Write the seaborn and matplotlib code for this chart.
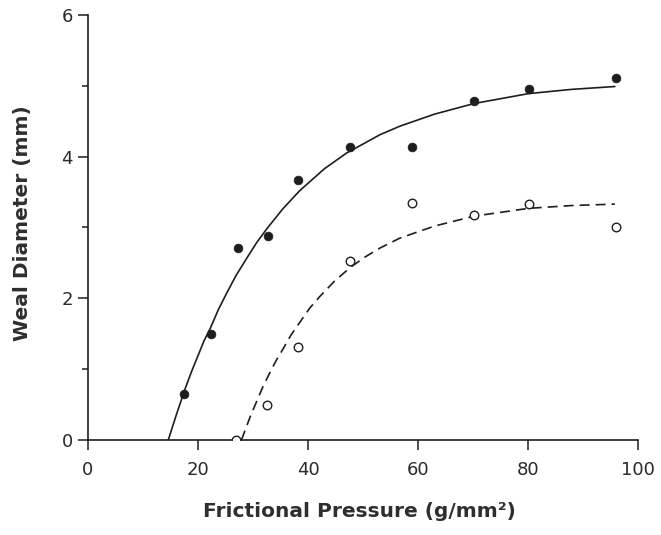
import matplotlib
matplotlib.use("Agg")
import matplotlib.pyplot as plt
import seaborn as sns

# Measured points
filled_x = [17.5, 22.3, 27.2, 32.8, 38.2, 47.6, 59.0, 70.2, 80.1, 96.0]
filled_y = [0.65, 1.49, 2.71, 2.88, 3.67, 4.14, 4.13, 4.78, 4.95, 5.11]
open_x = [26.9, 32.6, 38.1, 47.6, 59.0, 70.2, 80.1, 96.0]
open_y = [0.0, 0.49, 1.31, 2.52, 3.34, 3.18, 3.33, 3.0]

# Fitted curves
solid_x = [14.6, 16.0, 17.6, 18.8, 20.0, 21.1, 22.2, 23.7, 25.2, 26.9, 28.9, 30.7,
           32.5, 35.5, 38.5, 43.0, 47.0, 53.1, 56.7, 63.0, 70.2, 80.1, 88.0, 95.8]
solid_y = [0.0, 0.34, 0.71, 0.96, 1.19, 1.40, 1.57, 1.84, 2.07, 2.32, 2.57, 2.79,
           2.98, 3.27, 3.52, 3.83, 4.05, 4.31, 4.43, 4.60, 4.75, 4.89, 4.95, 4.99]
dash_x = [27.9, 29.5, 30.7, 31.8, 33.0, 34.2, 35.5, 36.9, 38.5, 40.3, 42.2, 44.8,
          47.6, 50.3, 53.1, 56.7, 63.0, 70.2, 80.1, 88.0, 95.8]
dash_y = [0.0, 0.33, 0.55, 0.75, 0.94, 1.12, 1.29, 1.48, 1.66, 1.86, 2.03, 2.24,
          2.43, 2.58, 2.71, 2.85, 3.02, 3.16, 3.27, 3.31, 3.33]

x_ticks = [0, 20, 40, 60, 80, 100]
y_ticks = [0, 2, 4, 6]
y_minor = [1, 3, 5]

sns.set_style("ticks")
plt.rcParams['font.family'] = ['DejaVu Sans']

ink = "#1e1e1e"
fig = plt.figure(figsize=(6.61, 5.35), dpi=100)
ax = fig.add_axes([0.1331, 0.1776, 0.8321, 0.7944])

sns.lineplot(x=solid_x, y=solid_y, ax=ax, color=ink, lw=1.2, sort=False)
sns.lineplot(x=dash_x, y=dash_y, ax=ax, color=ink, lw=1.2, sort=False,
             linestyle=(0, (6, 3.6)))
sns.scatterplot(x=filled_x, y=filled_y, ax=ax, color=ink, s=40, edgecolor=ink,
                linewidth=0.5, zorder=3)
sns.scatterplot(x=open_x, y=open_y, ax=ax, facecolor="white", s=38,
                edgecolor=ink, linewidth=1.0, zorder=3)

ax.set_xlim(0, 100)
ax.set_ylim(0, 6)
ax.set_xticks(x_ticks)
ax.set_yticks(y_ticks)
ax.set_yticks(y_minor, minor=True)
ax.set_xticklabels([str(v) for v in x_ticks])
ax.set_yticklabels([str(v) for v in y_ticks])
sns.despine(ax=ax)
for s in ["left", "bottom"]:
    ax.spines[s].set_color(ink)
    ax.spines[s].set_linewidth(1.2)
ax.tick_params(axis="x", length=7, width=1.1, color=ink, labelsize=13, pad=8,
               labelcolor="#2a2a2a")
ax.tick_params(axis="y", which="major", length=7, width=1.1, color=ink,
               labelsize=13, pad=4, labelcolor="#2a2a2a")
ax.tick_params(axis="y", which="minor", length=4, width=1.1, color=ink)

ax.set_xlabel("Frictional Pressure (g/mm²)", fontsize=14.5, fontweight="bold",
              color="#2e2e2e")
ax.set_ylabel("Weal Diameter (mm)", fontsize=14.5, fontweight="bold",
              color="#2e2e2e")
ax.xaxis.set_label_coords(0.493, -0.145)
ax.yaxis.set_label_coords(-0.102, 0.51)

fig.savefig("out.png", dpi=100)
